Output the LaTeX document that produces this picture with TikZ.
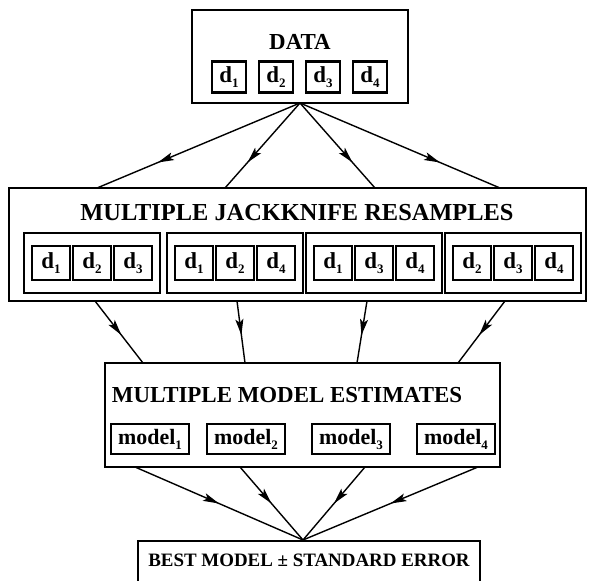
\documentclass[tikz,border=0pt]{standalone}
\usepackage{fontspec}
\setmainfont{Liberation Serif}
\usetikzlibrary{arrows.meta,decorations.markings}
\newcommand\idx[1]{\raisebox{-0.5ex}{\fontsize{13}{13}\selectfont#1}}

\begin{document}
\begin{tikzpicture}[x=1bp,y=-1bp,
    box/.style={draw,line width=1.8bp,inner sep=0pt},
    cell/.style={box,line width=2.2bp,minimum width=34bp,minimum height=31bp,font=\fontsize{23}{23}\selectfont\bfseries},
    rcell/.style={cell,minimum width=38bp,minimum height=34bp},
    mcell/.style={cell,minimum width=78bp,minimum height=30bp,font=\fontsize{22}{22}\selectfont\bfseries},
    title/.style={font=\fontsize{23}{26}\selectfont\bfseries},
    flow/.style={line width=1.4bp,postaction={decorate},
        decoration={markings,mark=at position #1 with {\arrow{Stealth[length=16bp,width=8bp,inset=3.5bp]}}}},
    flow/.default=0.7]
\useasboundingbox (0,0) rectangle (593,581);
\clip (0,0) rectangle (593,581);

\node[box,minimum width=216bp,minimum height=93bp] (data) at (300,56.5) {};
\node[title] (datatitle) at (300,42) {DATA};
\foreach \i/\x in {1/229,2/276,3/323,4/370}
    \node[cell] (d\i) at (\x,77) {d\idx{\i}};

\node[box,minimum width=577bp,minimum height=113bp] (jack) at (297.5,244.5) {};
\node[title,font=\fontsize{24.5}{26}\selectfont\bfseries] (jacktitle) at (297,213) {MULTIPLE JACKKNIFE RESAMPLES};
\foreach \g/\x/\a/\b/\c in {1/92/1/2/3,2/235/1/2/4,3/374/1/3/4,4/513/2/3/4} {
    \node[box,minimum width=136bp,minimum height=60bp] (g\g) at (\x,263) {};
    \node[rcell] (g\g a) at (\x-41,263) {d\idx{\a}};
    \node[rcell] (g\g b) at (\x,263) {d\idx{\b}};
    \node[rcell] (g\g c) at (\x+41,263) {d\idx{\c}};
}

\node[box,minimum width=395bp,minimum height=104bp] (est) at (302.5,415) {};
\node[title] (esttitle) at (287,395) {MULTIPLE MODEL ESTIMATES};
\foreach \i/\x in {1/150,2/246,3/351,4/456}
    \node[mcell] (m\i) at (\x,439) {model\idx{\i}};

\node[box,minimum width=342bp,minimum height=60bp,anchor=north] (best) at (309,540) {};
\node[title,font=\fontsize{19}{21}\selectfont\bfseries] (besttitle) at (309,560) {BEST MODEL ± STANDARD ERROR};

\coordinate (dout) at (300,103);
\coordinate (bin) at (303,540);
\foreach \i/\x in {1/97,2/225,3/375,4/500} {
    \coordinate (jin\i) at (\x,188);
    \draw[flow] (dout) -- (jin\i);
}
\foreach \i/\x/\y in {1/95/143,2/237/245,3/367/357,4/505/458} {
    \coordinate (jout\i) at (\x,301);
    \coordinate (ein\i) at (\y,363);
    \draw[flow=0.55] (jout\i) -- (ein\i);
}
\foreach \i/\x in {1/135,2/240,3/365,4/478} {
    \coordinate (eout\i) at (\x,467);
    \draw[flow=0.5] (eout\i) -- (bin);
}
\end{tikzpicture}
\end{document}
